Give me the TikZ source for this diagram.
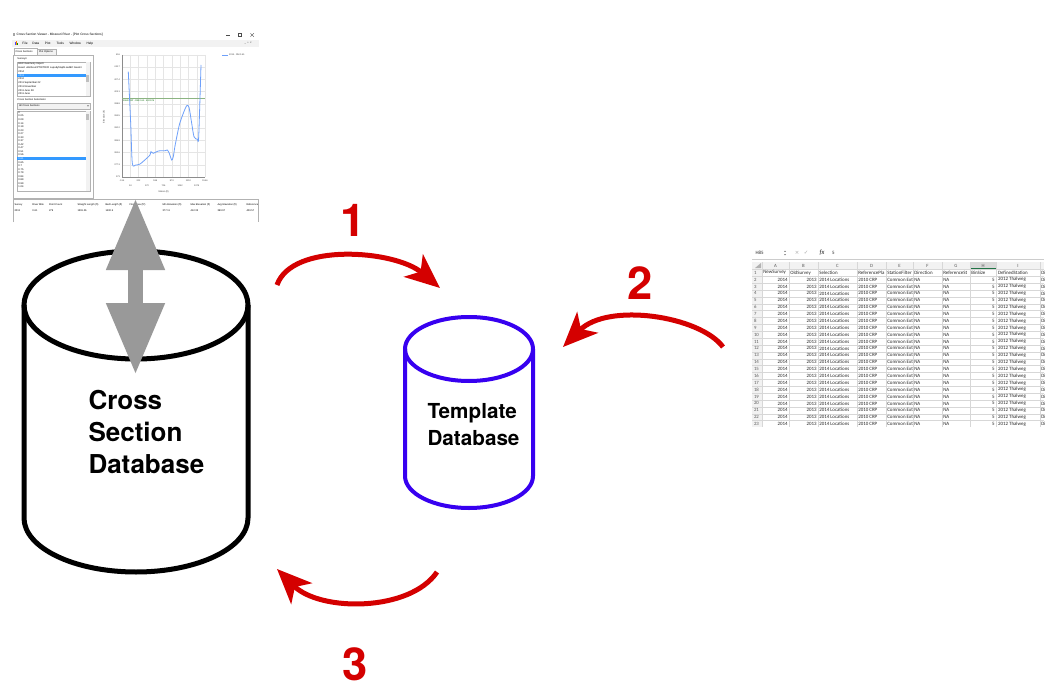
\documentclass[tikz,border=0pt]{standalone}
\usepackage{fontspec}
\setmainfont{TeX Gyre Heros}
\newfontfamily\calib{Carlito}
\newfontfamily\uifont{Liberation Sans}
\newfontfamily\symfont{DejaVu Sans}
\usetikzlibrary{arrows.meta}

\definecolor{arrred}{RGB}{212,0,0}
\definecolor{canblue}{RGB}{55,0,240}
\definecolor{selblue}{RGB}{51,153,255}
\definecolor{curveblue}{RGB}{110,160,250}
\definecolor{refgreen}{RGB}{140,180,130}
\definecolor{gridgray}{RGB}{215,215,215}
\definecolor{ctlgray}{RGB}{242,242,242}
\definecolor{arrgray}{RGB}{153,153,153}
\definecolor{xlgreen}{RGB}{33,115,70}

\tikzset{every picture/.style={line width=0.75pt}}
\tikzset{
  bigcan/.style={draw=black, line width=3.75pt},
  smallcan/.style={draw=canblue, line width=3pt},
  bigtext/.style={font=\fontsize{19.5}{24}\selectfont\bfseries, align=left, inner sep=0pt, anchor=north west},
  smalltext/.style={font=\fontsize{15.5}{20}\selectfont\bfseries, align=left, inner sep=0pt, anchor=north west},
  flowarrow/.style={draw=arrred, line width=3.75pt, -{Stealth[length=26pt,width=22pt,inset=7pt]}},
  steplabel/.style={text=arrred, font=\fontsize{34}{34}\selectfont\bfseries, inner sep=0pt},
  updown/.style={draw=arrgray, line width=11.25pt, {Triangle[length=54pt,width=41pt]}-{Triangle[length=54pt,width=41pt]}},
  uitext/.style={font=\uifont\fontsize{2.4}{3}\selectfont, inner sep=0pt, anchor=west},
  uismall/.style={font=\uifont\fontsize{1.9}{2.4}\selectfont, inner sep=0pt, anchor=west},
  plottick/.style={font=\uifont\fontsize{1.7}{2}\selectfont, inner sep=0pt, text=black!75},
  uibox/.style={draw=black!30, line width=0.3pt, fill=white},
  plotgrid/.style={draw=black!10, line width=0.3pt},
  xlgrid/.style={draw=gridgray, line width=0.3pt},
  xlcell/.style={font=\calib\fontsize{3.7}{4.5}\selectfont, inner sep=0pt, text=black!85},
  xlhead/.style={font=\calib\fontsize{3.6}{4.5}\selectfont, inner sep=0pt, text=black!65}
}

\begin{document}
\begin{tikzpicture}[x=0.75pt,y=0.75pt,yscale=-1,xscale=1]
\useasboundingbox (0,0) rectangle (1054,692);
\fill[white] (0,0) rectangle (1054,692);

%Viewer: title bar and menu
\fill[black!35] (12.5,33.5) rectangle (14.5,36);
\node[uitext] (vtitle) at (16,35) {Cross Section Viewer - Missouri River - [Plot Cross Sections]};
\draw[black!70, line width=0.3pt] (226,35) -- (230,35);
\draw[black!70, line width=0.3pt] (238,33.3) rectangle (241.4,36.7);
\draw[black!70, line width=0.3pt] (250.5,33.3) -- (253.9,36.7) (250.5,36.7) -- (253.9,33.3);
\fill[ctlgray] (12,40) rectangle (259,47);
\fill[blue!70] (14.5,45) rectangle (15.4,42.2);
\fill[orange] (15.8,45) rectangle (16.7,41);
\fill[green!60!black] (17.1,45) rectangle (18,42.8);
\foreach \m/\mx in {File/22,Data/32,Plot/44.5,Tools/56,Window/69,Help/86}
  \node[uitext] (menu\m) at (\mx,43.5) {\m};
\node[uismall] (vbtns) at (244,43.5) {\_\ \ \,\textbullet\ \ \texttimes};

%Viewer: left panel
\draw[uibox, fill=ctlgray] (37,49) rectangle (56,55);
\draw[uibox] (14,48) rectangle (37,55.3);
\node[uismall] (tabcs) at (15,51.7) {Cross Sections};
\node[uismall] (tabpo) at (38.5,52) {Plot Options};
\draw[uibox] (13,55) rectangle (93,198);
\node[uismall] (lblsurv) at (17,59) {Surveys:};
\draw[uibox] (17,62) rectangle (90,96);
\fill[selblue] (17.4,73.6) rectangle (86,77.2);
\fill[ctlgray] (86,62.3) rectangle (89.7,95.7);
\fill[black!25] (86.3,75) rectangle (89.4,82);
\foreach \s [count=\i] in {HEC Geometry Import,Head: u8s/Sour/PTR/TR/CI Lupodyhlap5l.sedEC Geomr,2014,2013,2012,2011 September 22,2011 November,2011 June 28,2011 June}{
  \ifnum\i=4 \def\tc{white}\else\def\tc{black}\fi
  \node[uismall, text=\tc] (surv\i) at (18,{64.3+(\i-1)*3.7}) {\s};
}
\node[uismall] (lblsel) at (17,100) {Cross Section Selections:};
\draw[uibox, fill=ctlgray] (17,103) rectangle (90,109);
\node[uismall] (selall) at (18.5,106) {All Cross Sections};
\fill[black!60] (87,105.3) -- (89,105.3) -- (88,106.6) -- cycle;
\draw[uibox] (17,111) rectangle (90,191);
\fill[selblue] (17.4,157) rectangle (86,160.4);
\fill[ctlgray] (86,111.3) rectangle (89.7,190.7);
\fill[black!25] (86.3,114) rectangle (89.4,120);
\foreach \v [count=\i] in {0,0.05,0.09,0.14,0.19,0.23,0.27,0.33,0.37,0.42,0.47,0.51,0.56,0.61,0.65,0.7,0.75,0.79,0.84,0.89,0.99,1.04}{
  \ifnum\i=14 \def\tc{white}\else\def\tc{black}\fi
  \node[uismall, text=\tc] (xs\i) at (18,{112.5+(\i-1)*3.55}) {\v};
}

%Viewer: plot
\foreach \k in {0,...,10} \draw[plotgrid] (122,{55+\k*12.2}) -- (205,{55+\k*12.2});
\foreach \k in {0,...,10} \draw[plotgrid] ({122+\k*8.3},55) -- ({122+\k*8.3},177);
\draw[black!45, line width=0.3pt] (122,55) -- (122,177) -- (205,177);
\foreach \v [count=\k from 0] in {416,411.7,407.4,403.1,398.8,394.5,390.2,385.9,381.6,377.3,373}
  \node[plottick, anchor=east] (yt\k) at (120.5,{55+\k*12.2}) {\v};
\foreach \v [count=\k from 0] in {-134,202,538,874,1210,1546}
  \node[plottick] (xta\k) at ({122+\k*16.6},181) {\v};
\foreach \v [count=\k from 0] in {34,370,706,1042,1378}
  \node[plottick] (xtb\k) at ({130.3+\k*16.6},186) {\v};
\node[plottick] (xlabel) at (163.5,191.5) {Station (ft)};
\node[plottick, rotate=90] (ylabel) at (104,117) {Elevation (ft)};
\draw[refgreen, line width=0.5pt] (122,98) -- (205,98);
\node[plottick, anchor=west, text=green!40!black] (reflbl) at (122.5,100.6) {1962 CRP - RM 0.61 - 402.576};
\draw[curveblue, line width=0.6pt] plot[smooth, tension=0.45] coordinates {(128.3,71.7) (130.7,123.3) (132.3,163.3) (135.7,165) (140,164) (146.7,158.3) (150,155) (151,151.7) (153.3,153.3) (158.3,151) (165,150.7) (167.3,150) (169.3,153.3) (171.7,160) (173.3,156.7) (175,146) (179.3,125) (183.3,113.3) (186.7,105.7) (189,107.3) (191.7,123.3) (194,136.7) (197.3,139.3) (198.7,136.7) (201,65)};
\draw[curveblue, line width=0.6pt] (222,55) -- (227.5,55);
\node[plottick, anchor=west] (legend) at (228.5,55) {2013 - RM 0.61};

%Viewer: summary table
\draw[black!30, line width=0.3pt] (13,222) -- (13,199) -- (258,199) -- (258,222);
\foreach \h/\hx in {Survey/14,River Mile/32,Point Count/48.5,Straight Length (ft)/77,Bed Length (ft)/105,Flow Area (ft²)/129,Min Elevation (ft)/162,Max Elevation (ft)/190,Avg Elevation (ft)/217,Reference/246}
  \node[uismall] (th\hx) at (\hx,204.5) {\h};
\foreach \d/\dx in {2013/14,0.61/32,279/48.5,1391.26/77,1400.5/105,377.11/162,412.33/190,390.97/217,400.57/246}
  \node[uismall] (td\dx) at (\dx,210.5) {\d};

%Spreadsheet
\begin{scope}
\clip (752,246) rectangle (1044,426.5);
\node[xlcell, anchor=west] (cellref) at (755,253) {H85};
\fill[black!45] (784,251.8) -- (786,251.8) -- (785,250.6) -- cycle;
\fill[black!45] (784,254.2) -- (786,254.2) -- (785,255.4) -- cycle;
\node[xlcell, text=black!35, font=\symfont\fontsize{4}{5}\selectfont] (xcancel) at (797,253) {×};
\node[xlcell, text=black!35, font=\symfont\fontsize{4}{5}\selectfont] (xok) at (806,253) {✓};
\node[xlcell, font=\calib\itshape\fontsize{5}{6}\selectfont] (xfx) at (822,253) {fx};
\node[xlcell, anchor=west] (xval) at (831.5,253) {5};
\draw[black!20, line width=0.6pt] (752,259) -- (1044,259);
\fill[ctlgray] (752,262) rectangle (1044,269.3);
\fill[ctlgray] (752,262) rectangle (762,426.5);
\fill[black!15] (970,262) rectangle (996,269.3);
\draw[xlgreen, line width=0.8pt] (970,269) -- (996,269);
\fill[black!30] (755,268) -- (761,268) -- (761,263) -- cycle;
\foreach \cx in {762,789,818,857,886,913,942,970,996,1040} \draw[xlgrid] (\cx,262) -- (\cx,426.5);
\foreach \r in {0,...,23} \draw[xlgrid] (752,{269.3+\r*6.88}) -- (1044,{269.3+\r*6.88});
\foreach \l/\cx in {A/775.5,B/803.5,C/837.5,D/871.5,E/899.5,F/927.5,G/956,H/983,I/1018}
  \node[xlhead] (col\l) at (\cx,265.7) {\l};
\foreach \r in {1,...,23}
  \node[xlhead, anchor=west] (row\r) at (753.5,{272.7+(\r-1)*6.88}) {\r};
\foreach \t/\tx in {NewSurvey/762.8,OldSurvey/789.8,Selection/818.8,ReferencePla/857.8,StationFilter/886.8,Direction/913.8,ReferenceSt/942.8,BinSize/970.8,DefinedStation/997.5,Di/1040.8}
  \node[xlcell, anchor=west] (hd\tx) at (\tx,272.7) {\t};
\foreach \r in {2,...,23}{
  \pgfmathsetmacro\yy{272.7+(\r-1)*6.88}
  \node[xlcell, anchor=east] (new\r) at (788.2,\yy) {2014};
  \node[xlcell, anchor=east] (old\r) at (817.2,\yy) {2013};
  \node[xlcell, anchor=west] (sel\r) at (818.8,\yy) {2014 Locations};
  \node[xlcell, anchor=west] (ref\r) at (857.8,\yy) {2010 CRP};
  \node[xlcell, anchor=west] (flt\r) at (886.8,\yy) {Common Ext};
  \node[xlcell, anchor=west] (dir\r) at (913.8,\yy) {NA};
  \node[xlcell, anchor=west] (rst\r) at (942.8,\yy) {NA};
  \node[xlcell, anchor=east] (bin\r) at (995.2,\yy) {5};
  \node[xlcell, anchor=west] (def\r) at (997.5,\yy) {2012 Thalweg};
  \node[xlcell, anchor=west] (nxt\r) at (1040.8,\yy) {Di};
}
\end{scope}

%Shape: Can [Cross Section Database]
\draw[bigcan] (24,305) -- (24,518) arc[start angle=180, end angle=0, x radius=112, y radius=54] -- (248,305);
\draw[bigcan] (136,305) ellipse [x radius=112, y radius=54];
\node[bigtext] (csdb) at (88,390) {Cross\\Section\\Database};

%Shape: Can [Template Database]
\draw[smallcan] (405,349) -- (405,476) arc[start angle=180, end angle=0, x radius=64, y radius=32] -- (533,349);
\draw[smallcan] (469,349) ellipse [x radius=64, y radius=32];
\node[smalltext] (tpldb) at (427,403) {Template\\Database};

%Red steps
\coordinate (oneS) at (277,285);
\coordinate (oneE) at (440,288);
\coordinate (twoS) at (723,347);
\coordinate (twoE) at (563,347);
\coordinate (threeS) at (437,572);
\coordinate (threeE) at (277,569);
\draw[flowarrow] (oneS) .. controls (292,242) and (395,250) .. (oneE);
\draw[flowarrow] (twoS) .. controls (700,316) and (608,302) .. (twoE);
\draw[flowarrow] (threeS) .. controls (410,612) and (320,612) .. (threeE);
\node[steplabel] (lblone) at (353,220) {1};
\node[steplabel] (lbltwo) at (640,283) {2};
\node[steplabel] (lblthree) at (355,664) {3};

%Gray double arrow
\coordinate (vtop) at (135.5,198);
\coordinate (vbot) at (135.5,375);
\draw[updown] (vtop) -- (vbot);

\end{tikzpicture}
\end{document}
